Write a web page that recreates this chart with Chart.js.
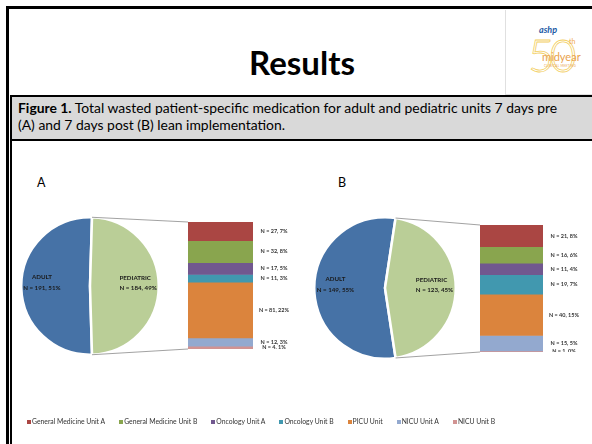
<!DOCTYPE html>
<html>
<head>
<meta charset="utf-8">
<script src="https://cdn.jsdelivr.net/npm/chart.js@4.4.0/dist/chart.umd.min.js"></script>
<style>
  body { margin: 0; width: 592px; height: 444px; overflow: hidden; background: #fff; font-family: Lato, "Open Sans", sans-serif; position: relative; }
  #frame { position: absolute; left: 6px; top: 6px; width: 620px; height: 460px; border-left: 3px solid #000; border-top: 3px solid #000; box-sizing: border-box; }
  #title { position: absolute; left: 302px; top: 46px; transform: translateX(-50%); font-weight: bold; font-size: 33px; line-height: 33px; color: #000; white-space: nowrap; }
  #logo { position: absolute; left: 505px; top: 10px; width: 90px; height: 84px; border-left: 1px solid #e0e0e0; border-bottom: 1px solid #e0e0e0; }
  #logo .ashp { position: absolute; left: 33px; top: 14px; font: italic bold 9px Lato, sans-serif; color: #1d5aa6; }
  #logo .fifty { position: absolute; left: 22px; top: 22px; font: 300 46px/46px Lato, sans-serif; color: transparent; -webkit-text-stroke: 0.8px #f3cf63; letter-spacing: -5px; }
  #logo .th { position: absolute; left: 63px; top: 27px; font: 7px Lato, sans-serif; color: #f0a94a; }
  #logo .mid { position: absolute; left: 36px; top: 40px; font: 11px Lato, sans-serif; color: #e9a24d; }
  #logo .cm { position: absolute; left: 38px; top: 54px; font: 3px Lato, sans-serif; color: #e9a24d; letter-spacing: 0.3px; }
  #caption { position: absolute; left: 10px; top: 95px; width: 620px; height: 40px; background: #d9d9d9; border: 2px solid #000; border-right: none; padding: 2px 0 0 6px; box-sizing: content-box; font-size: 13.9px; line-height: 17px; color: #000; white-space: nowrap; }
  #panel { position: absolute; left: 10px; top: 137px; width: 580px; height: 320px; border-left: 2px solid #000; border-right: 1px solid #d0d0d0; }
  .tag { position: absolute; font-size: 12.5px; color: #000; }
  canvas.c { position: absolute; }
  #legend { position: absolute; left: 27px; top: 417px; display: flex; gap: 14px; font-size: 6.8px; line-height: 8px; color: #333; white-space: nowrap; }
  #legend span.sw { display: inline-block; width: 4px; height: 4px; margin-right: 1px; vertical-align: 0.5px; }
</style>
</head>
<body>
<div id="frame"></div>
<div id="title">Results</div>
<div id="logo">
  <div class="ashp">ashp</div>
  <div class="fifty">50</div>
  <div class="th">th</div>
  <div class="mid">midyear</div>
  <div class="cm">CLINICAL MEETING</div>
</div>
<div id="caption"><b>Figure 1.</b> Total wasted patient-specific medication for adult and pediatric units 7 days pre<br>(A) and 7 days post (B) lean implementation.</div>
<div id="panel"></div>
<div class="tag" style="left:37px;top:175px">A</div>
<div class="tag" style="left:338px;top:175px">B</div>
<canvas class="c" id="pieA" width="140" height="140" style="left:20px;top:216px"></canvas>
<canvas class="c" id="barA" width="110" height="127" style="left:188px;top:222px"></canvas>
<canvas class="c" id="pieB" width="144" height="144" style="left:313px;top:216px"></canvas>
<canvas class="c" id="barB" width="108" height="127" style="left:480px;top:225px"></canvas>
<canvas class="c" id="links" width="592" height="444" style="left:0;top:0;pointer-events:none"></canvas>
<div id="legend"></div>
<script>
// ---- data ----
const groups = ["ADULT", "PEDIATRIC"];
const preTotals = [191, 184];
const prePct = [51, 49];
const postTotals = [149, 123];
const postPct = [55, 45];

const units = ["General Medicine Unit A", "General Medicine Unit B", "Oncology Unit A",
               "Oncology Unit B", "PICU Unit", "NICU Unit A", "NICU Unit B"];
const preUnits = [27, 32, 17, 11, 81, 12, 4];
const preUnitPct = [7, 8, 5, 3, 22, 3, 1];
const postUnits = [21, 16, 11, 19, 40, 15, 1];
const postUnitPct = [8, 6, 4, 7, 15, 5, 0];

// ---- colours ----
const groupColors = ["#4672A6", "#BACE97"];
const unitColors = ["#AA4643", "#89A54E", "#71588F", "#4198AF", "#DB843D", "#93A9CF", "#D19392"];

Chart.defaults.font.family = "Lato, 'Open Sans', sans-serif";

// labels inside the pie slices
const pieLabels = {
    id: "pieLabels",
    afterDatasetsDraw(chart, args, opts) {
        const ctx = chart.ctx;
        const ds = chart.data.datasets[0];
        ctx.save();
        ctx.font = "bold 6.2px Lato, sans-serif";
        ctx.fillStyle = "#1a1a1a";
        ctx.textBaseline = "middle";
        chart.getDatasetMeta(0).data.forEach((arc, i) => {
            const mid = (arc.startAngle + arc.endAngle) / 2;
            const cx = arc.x + Math.cos(mid) * arc.outerRadius * 0.7;
            const cy = arc.y + Math.sin(mid) * arc.outerRadius * 0.7;
            const line2 = `N = ${ds.data[i]}, ${opts.pct[i]}%`;
            const w2 = ctx.measureText(line2).width;
            ctx.textAlign = "center";
            ctx.fillText(line2, cx, cy + 2);
            if (i === 1) {
                ctx.textAlign = "left";
                ctx.fillText(chart.data.labels[i], cx - w2 / 2, cy - 8);
            } else {
                ctx.fillText(chart.data.labels[i], cx, cy - 9);
            }
        });
        ctx.restore();
    }
};

// labels to the right of the stacked column
const barLabels = {
    id: "barLabels",
    afterDatasetsDraw(chart, args, opts) {
        const ctx = chart.ctx;
        ctx.save();
        ctx.font = "bold 5.5px Lato, sans-serif";
        ctx.fillStyle = "#333";
        ctx.textAlign = "center";
        ctx.textBaseline = "middle";
        chart.data.datasets.forEach((ds, i) => {
            const bar = chart.getDatasetMeta(i).data[0];
            const y = (bar.y + bar.base) / 2;
            ctx.fillText(`N = ${ds.data[0]}, ${opts.pct[i]}%`, chart.chartArea.right + 21, y);
        });
        ctx.restore();
    }
};

function makePie(id, totals, pct) {
    const sum = totals[0] + totals[1];
    const adultDeg = 360 * totals[0] / sum;
    const pedDeg = 360 * totals[1] / sum;
    // pediatric slice centred on the right side, facing the column
    const rotation = 90 - adultDeg - pedDeg / 2;
    return new Chart(document.getElementById(id), {
        type: "pie",
        data: {
            labels: groups,
            datasets: [{
                data: totals,
                backgroundColor: groupColors,
                borderColor: "#fff",
                borderWidth: 2.5
            }]
        },
        options: {
            responsive: false,
            animation: false,
            rotation: rotation,
            layout: { padding: 0 },
            plugins: { legend: { display: false }, tooltip: { enabled: false }, pieLabels: { pct: pct } },
            events: []
        },
        plugins: [pieLabels]
    });
}

function makeBar(id, values, pct) {
    const total = values.reduce((a, b) => a + b, 0);
    return new Chart(document.getElementById(id), {
        type: "bar",
        data: {
            labels: ["PEDIATRIC"],
            datasets: units.map((u, i) => ({
                label: u,
                data: [values[i]],
                backgroundColor: unitColors[i],
                borderWidth: 0,
                barPercentage: 1,
                categoryPercentage: 1
            }))
        },
        options: {
            responsive: false,
            animation: false,
            layout: { padding: { left: 0, right: 45, top: 0, bottom: 0 } },
            scales: {
                x: { stacked: true, display: false },
                y: { stacked: true, display: false, reverse: true, min: 0, max: total }
            },
            plugins: { legend: { display: false }, tooltip: { enabled: false }, barLabels: { pct: pct } },
            events: []
        },
        plugins: [barLabels]
    });
}

const pieA = makePie("pieA", preTotals, prePct);
const barA = makeBar("barA", preUnits, preUnitPct);
const pieB = makePie("pieB", postTotals, postPct);
const barB = makeBar("barB", postUnits, postUnitPct);

// connector lines from the pediatric slice to its column
function drawLinks(pie, bar) {
    const ctx = document.getElementById("links").getContext("2d");
    const pr = pie.canvas.getBoundingClientRect();
    const br = bar.canvas.getBoundingClientRect();
    const arc = pie.getDatasetMeta(0).data[1];
    const area = bar.chartArea;
    const ends = [[arc.startAngle, area.top], [arc.endAngle, area.bottom]];
    ctx.save();
    ctx.strokeStyle = "#8a8a8a";
    ctx.lineWidth = 0.8;
    ends.forEach(([ang, by]) => {
        ctx.beginPath();
        ctx.moveTo(pr.left + arc.x + Math.cos(ang) * arc.outerRadius, pr.top + arc.y + Math.sin(ang) * arc.outerRadius);
        ctx.lineTo(br.left + area.left, br.top + by);
        ctx.stroke();
    });
    ctx.restore();
}
drawLinks(pieA, barA);
drawLinks(pieB, barB);

// legend
const legend = document.getElementById("legend");
units.forEach((u, i) => {
    const item = document.createElement("div");
    item.innerHTML = `<span class="sw" style="background:${unitColors[i]}"></span>${u}`;
    legend.appendChild(item);
});
</script>
</body>
</html>
